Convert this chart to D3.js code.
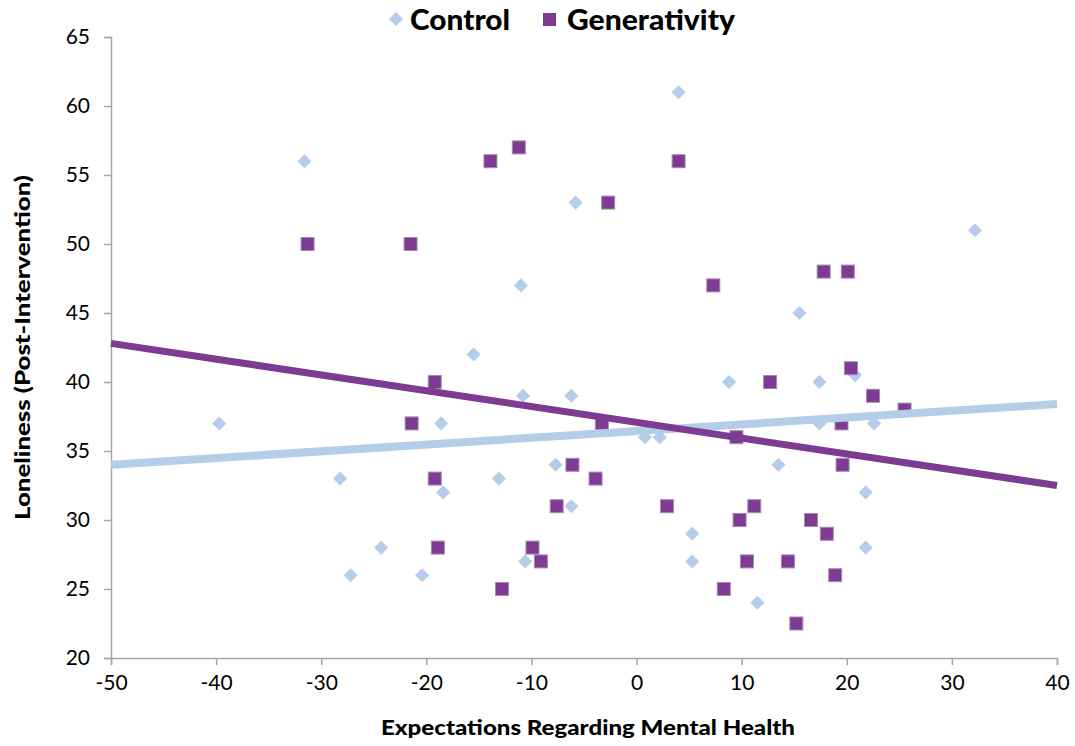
<!DOCTYPE html>
<html><head><meta charset="utf-8">
<script src="https://cdn.jsdelivr.net/npm/d3@7"></script>
<style>body{margin:0;background:#fff}</style>
</head><body>
<svg id="c" width="1075" height="746"></svg>
<script>
const controlX = [-39.7,-31.6,-28.2,-27.2,-24.3,-20.4,-18.6,-18.4,-15.5,-13.1,-11.0,-10.8,-10.6,-7.7,-6.2,-6.2,-5.8,0.8,2.2,4.0,5.3,5.3,8.8,11.5,13.5,15.5,17.4,17.4,20.8,21.8,21.8,22.6,32.2];
const controlY = [37,56,33,26,28,26,37,32,42,33,47,39,27,34,39,31,53,36,36,61,29,27,40,24,34,45,40,37,40.5,32,28,37,51];
const genX = [-31.3,-21.5,-21.4,-19.2,-19.2,-18.9,-13.9,-12.8,-11.2,-9.9,-9.1,-7.6,-6.1,-3.9,-3.3,-2.7,2.9,4.0,7.3,8.3,9.5,9.8,10.5,11.2,12.7,14.4,15.2,16.6,17.8,18.1,18.9,19.5,19.6,20.1,20.4,22.5,25.5];
const genY = [50,50,37,40,33,28,56,25,57,28,27,31,34,33,37,53,31,56,47,25,36,30,27,31,40,27,22.5,30,48,29,26,37,34,48,41,39,38];
const trendControl = [[-50,34.0],[40,38.4]];
const trendGen = [[-50,42.8],[40,32.5]];
const xTicks = [-50,-40,-30,-20,-10,0,10,20,30,40];
const yTicks = [20,25,30,35,40,45,50,55,60,65];
const seriesNames = ["Control","Generativity"];
const colors = {Control:"#b4cde9", Generativity:"#7d3b91"};

const svg = d3.select("#c");
const font = "'Lato','DejaVu Sans',sans-serif";
const x = d3.scaleLinear().domain([-50,40]).range([111,1057]);
const y = d3.scaleLinear().domain([20,65]).range([658,37]);

// axes
const xa = svg.append("g").attr("transform","translate(0,658)")
  .call(d3.axisBottom(x).tickValues(xTicks).tickSize(7).tickPadding(10).tickFormat(d3.format("d")));
const ya = svg.append("g").attr("transform","translate(111,0)")
  .call(d3.axisLeft(y).tickValues(yTicks).tickSize(7).tickPadding(14).tickFormat(d3.format("d")));
[xa,ya].forEach(a=>{
  a.selectAll("path,line").attr("stroke","#a6a6a6").attr("stroke-width",1.5);
  a.selectAll("text").attr("font-family",font).attr("font-size",21).attr("fill","#000");
});
xa.selectAll("text").text(d=>d<0? "-"+Math.abs(d) : d);

const line = d3.line().x(d=>x(d[0])).y(d=>y(d[1]));

// points
const ctrl = controlX.map((v,i)=>[v,controlY[i]]);
const gen = genX.map((v,i)=>[v,genY[i]]);
svg.append("g").selectAll("rect").data(ctrl).join("rect")
  .attr("x",-5).attr("y",-5).attr("width",10).attr("height",10)
  .attr("transform",d=>`translate(${x(d[0])},${y(d[1])}) rotate(45)`)
  .attr("fill",colors.Control);
svg.append("g").selectAll("rect").data(gen).join("rect")
  .attr("x",d=>x(d[0])-6.5).attr("y",d=>y(d[1])-6.5).attr("width",13).attr("height",13)
  .attr("fill",colors.Generativity).attr("stroke","#a987b8").attr("stroke-width",1);

// trend lines
svg.append("path").datum(trendControl).attr("d",line).attr("stroke",colors.Control).attr("stroke-width",8).attr("fill","none");
svg.append("path").datum(trendGen).attr("d",line).attr("stroke",colors.Generativity).attr("stroke-width",7).attr("fill","none");

// axis titles
svg.append("text").attr("x",381).attr("y",735)
  .attr("textLength",414).attr("lengthAdjust","spacingAndGlyphs")
  .attr("font-family",font).attr("font-weight","900").attr("font-size",21).text("Expectations Regarding Mental Health");
svg.append("text").attr("transform","translate(30,520) rotate(-90)")
  .attr("textLength",345).attr("lengthAdjust","spacingAndGlyphs")
  .attr("font-family",font).attr("font-weight","900").attr("font-size",21).text("Loneliness (Post-Intervention)");

// legend
const lg = svg.append("g");
lg.append("rect").attr("x",-5).attr("y",-5).attr("width",10).attr("height",10)
  .attr("transform","translate(396,19) rotate(45)").attr("fill",colors.Control);
lg.append("text").attr("x",410).attr("y",30).attr("textLength",100).attr("lengthAdjust","spacingAndGlyphs")
  .attr("font-family",font).attr("font-weight","900").attr("font-size",29).text(seriesNames[0]);
lg.append("rect").attr("x",543).attr("y",13).attr("width",13).attr("height",13).attr("fill",colors.Generativity);
lg.append("text").attr("x",567).attr("y",30).attr("textLength",168).attr("lengthAdjust","spacingAndGlyphs")
  .attr("font-family",font).attr("font-weight","900").attr("font-size",29).text(seriesNames[1]);
</script>
</body></html>
